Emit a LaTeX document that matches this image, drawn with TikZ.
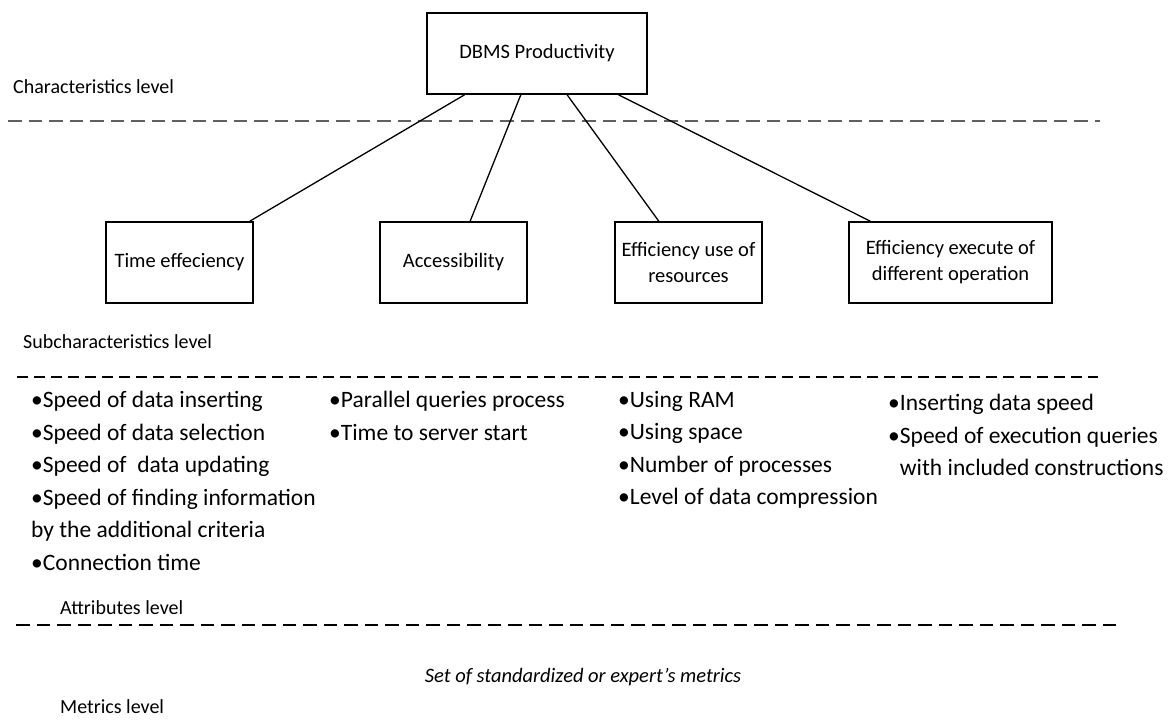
\documentclass[tikz,border=0pt]{standalone}
\usepackage{fontspec}
\setmainfont{Carlito}
\usetikzlibrary{calc}

\begin{document}
\begin{tikzpicture}[x=1pt,y=-1pt,
        main/.style = {draw, line width=1.6pt, minimum height=81pt, inner sep=2pt, align=center, font=\fontsize{20.5}{26}\selectfont},
        lvl/.style = {anchor=west, inner sep=0pt, font=\fontsize{20}{24}\selectfont},
        attr/.style = {anchor=north west, inner sep=0pt, align=left, font=\fontsize{23.5}{32.5}\selectfont},
        link/.style = {line width=1.3pt},
        sep/.style = {dash pattern=on 13.5pt off 7pt, line width=2pt}]
        \path[use as bounding box, fill=white] (0,0) rectangle (1172,726);
        \node[main, minimum width=220pt] (0) at (537,53.5) {DBMS Productivity};
        \node[lvl] (c) at (13,87) {Characteristics level};
        \draw[sep, gray!75!black] (8,121) -- (1100,121);
        \node[main, minimum width=147pt] (1) at (179.5,262.5) {Time effeciency};
        \node[main, minimum width=147pt] (2) at (453.5,262.5) {Accessibility};
        \node[main, minimum width=147pt] (3) at (688.5,262.5) {Efficiency use of\\resources};
        \node[main, minimum width=203pt] (4) at (950.5,262.5) {Efficiency execute of\\different operation};
        \draw[link] ($(0.south west)!0.173!(0.south east)$) -- ($(1.north west)!0.973!(1.north east)$);
        \draw[link] ($(0.south west)!0.427!(0.south east)$) -- ($(2.north west)!0.612!(2.north east)$);
        \draw[link] ($(0.south west)!0.636!(0.south east)$) -- ($(3.north west)!0.30!(3.north east)$);
        \draw[link] ($(0.south west)!0.868!(0.south east)$) -- ($(4.north west)!0.108!(4.north east)$);
        \node[lvl] (s) at (23,342) {Subcharacteristics level};
        \draw[sep, dash pattern=on 11pt off 6pt, line width=1.4pt] (17,377) -- (1098,377);
        \node[attr] (a1) at (31,391) {•Speed of data inserting\\•Speed of data selection\\•Speed of~ data updating\\•Speed of finding information\\by the additional criteria\\•Connection time};
        \node[attr] (a2) at (329,391) {•Parallel queries process\\•Time to server start};
        \node[attr] (a3) at (618,391) {•Using RAM\\•Using space\\•Number of processes\\•Level of data compression};
        \node[attr] (a4) at (888,394) {•Inserting data speed\\•Speed of execution queries\\\hphantom{•}with included constructions};
        \node[lvl] (t) at (60,608) {Attributes level};
        \draw[sep, black] (16,625) -- (1117,625);
        \node[lvl, anchor=center, font=\fontsize{20.5}{24}\selectfont\itshape] (m) at (583,677) {Set of standardized or expert’s metrics};
        \node[lvl] (l) at (60,707) {Metrics level};
        \end{tikzpicture}
\end{document}
